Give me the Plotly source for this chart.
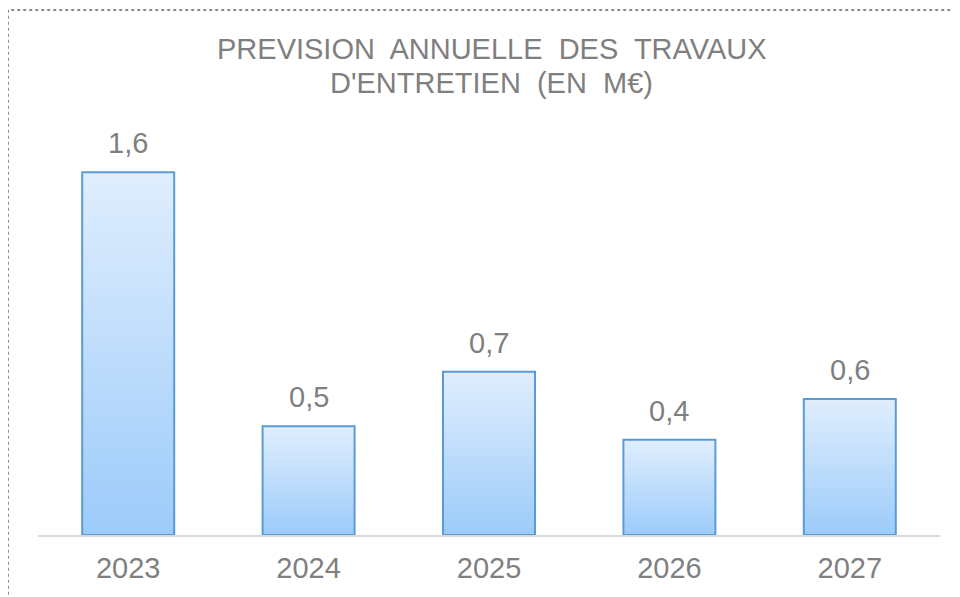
import plotly.graph_objects as go

# donnees (M€)
annees = ["2023", "2024", "2025", "2026", "2027"]
montants = [1.6, 0.48, 0.72, 0.42, 0.6]
etiquettes = ["1,6", "0,5", "0,7", "0,4", "0,6"]
titre = ["PREVISION\u00a0 ANNUELLE\u00a0 DES\u00a0 TRAVAUX", "D'ENTRETIEN\u00a0 (EN\u00a0 M€)"]

gris = "#7f7f7f"
police = "Liberation Sans, Arial, sans-serif"
demi_largeur = 0.255

fig = go.Figure()

# barres en degrade (polygone rempli avec fillgradient)
for i, v in enumerate(montants):
    xs = [i - demi_largeur, i - demi_largeur, i + demi_largeur, i + demi_largeur, i - demi_largeur]
    ys = [0, v, v, 0, 0]
    fig.add_trace(go.Scatter(
        x=xs, y=ys, mode="lines", fill="toself",
        fillgradient=dict(type="vertical",
                          colorscale=[[0, "#9ccbfa"], [1, "#e0eefd"]]),
        line=dict(color="#5b9bd5", width=2),
        hoverinfo="skip", showlegend=False))

# etiquettes de valeurs
for i, v in enumerate(montants):
    fig.add_annotation(x=i, y=v, text=etiquettes[i], showarrow=False,
                       yanchor="bottom", yshift=11,
                       font=dict(size=29, color=gris, family=police))

# titre sur deux lignes (interligne serre)
for ligne, yy in zip(titre, [1.171, 1.089]):
    fig.add_annotation(x=0.503, y=yy, xref="paper", yref="paper", text=ligne,
                       showarrow=False, xanchor="center", yanchor="middle",
                       font=dict(size=29, color=gris, family=police))

fig.update_layout(
    width=960, height=597,
    paper_bgcolor="white", plot_bgcolor="white",
    margin=dict(l=30, r=28, t=112, b=70),
    font=dict(family=police, color=gris),
)

fig.update_xaxes(range=[-0.5, 4.5], tickvals=list(range(len(annees))), ticktext=annees,
                 showline=True, linecolor="#d9d9d9", linewidth=2, showgrid=False,
                 zeroline=False, ticks="", ticklabelstandoff=6,
                 tickfont=dict(size=29, color=gris, family=police),
                 fixedrange=True)
fig.update_yaxes(range=[0, 1.83], visible=False, fixedrange=True)

# cadre pointille
fig.add_shape(type="rect", xref="paper", yref="paper",
              x0=-0.0333, x1=1.05, y0=-0.2, y1=1.265,
              line=dict(color="#8c8c8c", width=2, dash="dot"))

fig.write_html("out.html")
